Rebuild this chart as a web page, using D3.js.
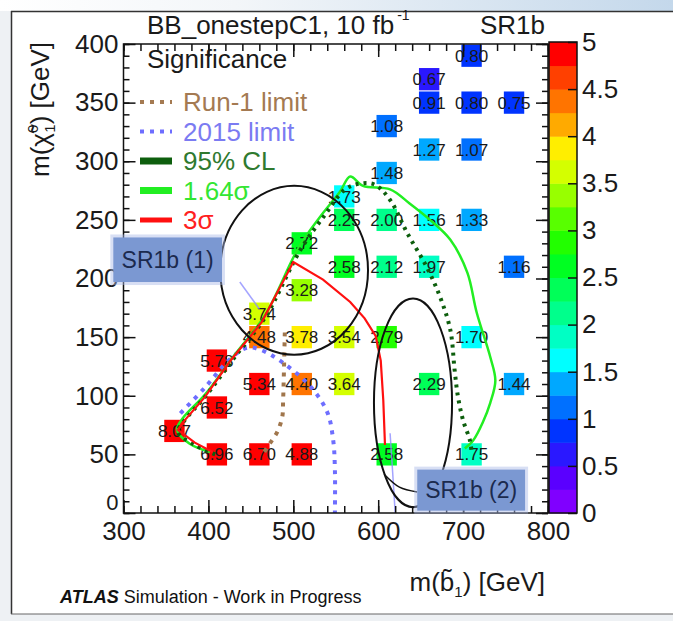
<!DOCTYPE html>
<html><head><meta charset="utf-8">
<script src="https://cdn.jsdelivr.net/npm/d3@7"></script>
<style>
html,body{margin:0;padding:0;background:#fff;}
svg{display:block;font-family:"Liberation Sans",Arial,Helvetica,sans-serif;}
</style></head><body>
<svg id="c" width="673" height="621"></svg>
<script>
// ---------------- data ----------------
const mSbottom   = [360,410,460,510,610,710,410,460,510,560,660,760,410,460,510,560,610,710,460,510,560,610,660,760,510,560,610,660,710,560,610,660,710,610,660,710,760,660,710];
const mNeutralino= [ 70, 50, 50, 50, 50, 50, 90,110,110,110,110,110,130,150,150,150,150,150,170,190,210,210,210,210,230,250,250,250,250,270,290,310,310,330,350,350,350,370,390];
const significance=[8.07,6.96,6.70,4.88,2.58,1.75,6.52,5.34,4.40,3.64,2.29,1.44,5.78,4.48,3.78,3.54,2.79,1.70,3.74,3.28,2.58,2.12,1.97,1.16,2.72,2.25,2.00,1.56,1.33,1.73,1.48,1.27,1.07,1.08,0.91,0.80,0.75,0.67,0.80];

const xTicks = [300,400,500,600,700,800];
const yTicks = [0,50,100,150,200,250,300,350,400];
const zTicks = [0,0.5,1,1.5,2,2.5,3,3.5,4,4.5,5];
const zTickLabels = ["0","0.5","1","1.5","2","2.5","3","3.5","4","4.5","5"];
const palette = ["#8000ff","#5a00ff","#2a18ff","#0034ff","#0070ff","#00a8ff","#00ffff","#00ffc4","#00ff8c","#00ff58","#00ff22","#22ff00","#58ff00","#98ff00","#d4ff00","#ffee00","#ffaa00","#ff7400","#ff4000","#ff0000"];

// contours (GeV)
const sig3X = [405,384,364,372,396,425,463,500,535,567,584,597,603,606,608];
const sig3Y = [52,60,71,79,99,129,163,214,199,180,166,151,130,96,58];
const sig164X = [402,378,363,370,396,431,467,506,531,555,567,582,614,637,661,685,705,716,732,738,732,723,712,702];
const sig164Y = [52,59,71,81,101,135,169,226,252,274,287,279,276,264,250,233,205,171,133,113,94,77,62,55];
const cl95X = [408,384,364,372,396,431,467,508,537,561,579,596,614,634,657,673,685,690,694,700,708,710];
const cl95Y = [50,58,69,79,99,133,167,224,254,276,281,280,267,239,210,184,156,122,99,79,62,52];
const run1X = [490,489,488,487,481,473,464];
const run1Y = [154,122,96,82,69,60,50];
const lim2015X = [367,396,425,446,462,488,520,540,547,549,549];
const lim2015Y = [85,107,131,141,139,128,108,86,62,37,0];
const thinAX = [437,460], thinAY = [197,174];
const thinBX = [614,617,620], thinBY = [68,35,0];

// annotations (GeV)
const ellipses = [{cx:501, cy:207, rx:87, ry:72},{cx:641, cy:94, rx:46, ry:89}];
const srBoxes = [{label:"SR1b (1)", x0:288, x1:416, y0:197, y1:235},{label:"SR1b (2)", x0:646, x1:773, y0:2, y1:37}];
const connectorX = [607,625,646], connectorY = [33,22,18];

const legendItems = [
  {label:"Run-1 limit", color:"#a47a52", text:"#a47a52", w:4, dash:"4,6"},
  {label:"2015 limit", color:"#6e6eff", text:"#7b7bf2", w:4, dash:"4,6"},
  {label:"95% CL", color:"#0d5e0d", text:"#2f7a2f", w:7, dash:null},
  {label:"1.64\u03c3", color:"#22ee22", text:"#33e633", w:7, dash:null},
  {label:"3\u03c3", color:"#ff1010", text:"#ff2020", w:5, dash:null}
];

// ---------------- drawing ----------------
const W = 673, H = 621;
const svg = d3.select("#c");
const defs = svg.append("defs");
const g1 = defs.append("linearGradient").attr("id","topg").attr("x1","0").attr("x2","1").attr("y1","0").attr("y2","0");
g1.append("stop").attr("offset","0").attr("stop-color","#ffffff");
g1.append("stop").attr("offset","0.35").attr("stop-color","#f3f6f9");
g1.append("stop").attr("offset","1").attr("stop-color","#c4d8eb");

svg.append("rect").attr("width",W).attr("height",H).attr("fill","#fff");
svg.append("rect").attr("x",0).attr("y",0).attr("width",W).attr("height",11).attr("fill","url(#topg)");
svg.append("rect").attr("x",0).attr("y",11).attr("width",11).attr("height",H-11).attr("fill","#eef1f4");
svg.append("rect").attr("x",11).attr("y",614).attr("width",W-11).attr("height",H-614).attr("fill","#eef1f4");
svg.append("line").attr("x1",11).attr("x2",W).attr("y1",11.5).attr("y2",11.5).attr("stroke","#333").attr("stroke-width",1.5);
svg.append("line").attr("x1",11.5).attr("x2",11.5).attr("y1",11).attr("y2",614).attr("stroke","#333").attr("stroke-width",1.5);
svg.append("line").attr("x1",11).attr("x2",W).attr("y1",614).attr("y2",614).attr("stroke","#666").attr("stroke-width",1);

const x = d3.scaleLinear().domain([300,800]).range([123.5,548]);
const y = d3.scaleLinear().domain([0,400]).range([513,44]);
const z = d3.scaleLinear().domain([0,5]).range([513,42]);
const color = d3.scaleQuantize().domain([0,5]).range(palette);
const fmt = d3.format(".2f");

const plot = svg.append("g");
const clip = defs.append("clipPath").attr("id","pc");
clip.append("rect").attr("x",x(300)).attr("y",y(400)).attr("width",x(800)-x(300)).attr("height",y(0)-y(400));

// cells
const halfW = 12, halfH = 9.5;
const cells = mSbottom.map((d,i)=>({x:d, y:mNeutralino[i], v:significance[i]}));
plot.selectAll("rect.cell").data(cells).enter().append("rect").attr("class","cell")
  .attr("x",d=>x(d.x-halfW)).attr("y",d=>y(d.y+halfH))
  .attr("width",d=>x(d.x+halfW)-x(d.x-halfW)).attr("height",d=>y(d.y-halfH)-y(d.y+halfH))
  .attr("fill",d=>color(Math.min(d.v,4.999)));
plot.selectAll("text.cell").data(cells).enter().append("text").attr("class","cell")
  .attr("x",d=>x(d.x)).attr("y",d=>y(d.y)).attr("dy","0.36em")
  .attr("text-anchor","middle").attr("font-size",17).attr("fill","#1a1a1a")
  .text(d=>fmt(d.v));

// contours
const mk = (xs,ys)=>xs.map((v,i)=>[x(v),y(ys[i])]);
const lineCR = d3.line().curve(d3.curveCatmullRom.alpha(0.5));
const lineL = d3.line();
const cg = svg.append("g").attr("clip-path","url(#pc)");
cg.append("path").attr("d",lineCR(mk(thinAX,thinAY))).attr("fill","none").attr("stroke","#8d8dff").attr("stroke-width",1.5).attr("opacity",0.8);
cg.append("path").attr("d",lineCR(mk(thinBX,thinBY))).attr("fill","none").attr("stroke","#8d8dff").attr("stroke-width",1.5).attr("opacity",0.8);
cg.append("path").attr("d",lineCR(mk(lim2015X,lim2015Y))).attr("fill","none").attr("stroke","#6e6eff").attr("stroke-width",4).attr("stroke-dasharray","4,6");
cg.append("path").attr("d",lineCR(mk(run1X,run1Y))).attr("fill","none").attr("stroke","#a0764c").attr("stroke-width",4).attr("stroke-dasharray","4,6");
cg.append("path").attr("d",lineCR(mk(sig164X,sig164Y))).attr("fill","none").attr("stroke","#22ee22").attr("stroke-width",2.5);
cg.append("path").attr("d",lineCR(mk(cl95X,cl95Y))).attr("fill","none").attr("stroke","#0d5e0d").attr("stroke-width",4).attr("stroke-dasharray","3,5");
cg.append("path").attr("d",lineL(mk(sig3X,sig3Y))).attr("fill","none").attr("stroke","#ff1010").attr("stroke-width",2.2);

// ellipses
svg.selectAll("ellipse.ann").data(ellipses).enter().append("ellipse").attr("class","ann")
  .attr("cx",d=>x(d.cx)).attr("cy",d=>y(d.cy))
  .attr("rx",d=>x(d.cx+d.rx)-x(d.cx)).attr("ry",d=>y(d.cy-d.ry)-y(d.cy))
  .attr("fill","none").attr("stroke","#111").attr("stroke-width",2);
svg.append("path").attr("d",lineCR(mk(connectorX,connectorY))).attr("fill","none").attr("stroke","#111").attr("stroke-width",1.5);

// frame ticks
const ax = svg.append("g").attr("class","axes");
function styleAxis(g){ g.select(".domain").remove(); g.selectAll("line").attr("stroke","#111").attr("stroke-width",1.5); g.selectAll("text").attr("font-size",26).attr("fill","#1a1a1a").attr("font-family","'Liberation Sans',Arial,sans-serif"); }
const xMinor = d3.range(300,801,20), yMinor = d3.range(0,401,10);
ax.append("g").attr("transform",`translate(0,${y(0)})`).call(d3.axisBottom(x).tickValues(xMinor).tickSize(-7).tickFormat("")).call(styleAxis);
ax.append("g").attr("transform",`translate(0,${y(0)})`).call(d3.axisBottom(x).tickValues(xTicks).tickSize(-13).tickPadding(9).tickFormat(d3.format("d"))).call(styleAxis);
ax.append("g").attr("transform",`translate(0,${y(400)})`).call(d3.axisTop(x).tickValues(xMinor).tickSize(-7).tickFormat("")).call(styleAxis);
ax.append("g").attr("transform",`translate(0,${y(400)})`).call(d3.axisTop(x).tickValues(xTicks).tickSize(-13).tickFormat("")).call(styleAxis);
ax.append("g").attr("transform",`translate(${x(300)},0)`).call(d3.axisLeft(y).tickValues(yMinor).tickSize(-6).tickFormat("")).call(styleAxis);
const yAxG = ax.append("g").attr("transform",`translate(${x(300)},0)`).call(d3.axisLeft(y).tickValues(yTicks).tickSize(-12).tickPadding(5).tickFormat(d3.format("d"))).call(styleAxis);
yAxG.selectAll(".tick").filter(d=>d===0).select("text").attr("font-size",22).attr("dy","-0.15em");
ax.append("g").attr("transform",`translate(${x(800)},0)`).call(d3.axisRight(y).tickValues(yMinor).tickSize(-6).tickFormat("")).call(styleAxis);
ax.append("g").attr("transform",`translate(${x(800)},0)`).call(d3.axisRight(y).tickValues(yTicks).tickSize(-12).tickFormat("")).call(styleAxis);
svg.append("rect").attr("x",x(300)).attr("y",y(400)).attr("width",x(800)-x(300)).attr("height",y(0)-y(400))
  .attr("fill","none").attr("stroke","#111").attr("stroke-width",1.5);

// SR boxes
srBoxes.forEach(b=>{
  const bx = x(b.x0), bw = x(b.x1)-x(b.x0), by = y(b.y1), bh = y(b.y0)-y(b.y1);
  svg.append("rect").attr("x",bx-3).attr("y",by-3).attr("width",bw+6).attr("height",bh+6).attr("fill","#a9b9e6").attr("opacity",0.45);
  svg.append("rect").attr("x",bx).attr("y",by).attr("width",bw).attr("height",bh).attr("fill","#7b98d2");
  svg.append("text").attr("x",bx+bw/2).attr("y",by+bh/2).attr("dy","0.36em").attr("text-anchor","middle")
    .attr("font-size",23).attr("fill","#1b2a4e").text(b.label);
});

// colour bar
const cb = svg.append("g");
const bands = d3.range(palette.length);
cb.selectAll("rect.band").data(bands).enter().append("rect").attr("class","band")
  .attr("x",549).attr("width",28)
  .attr("y",i=>z((i+1)*5/palette.length)).attr("height",i=>z(i*5/palette.length)-z((i+1)*5/palette.length)+0.5)
  .attr("fill",i=>palette[i]);
cb.append("rect").attr("x",549).attr("y",z(5)).attr("width",28).attr("height",z(0)-z(5)).attr("fill","none").attr("stroke","#111").attr("stroke-width",1.5);
cb.append("g").attr("transform","translate(577,0)")
  .call(d3.axisRight(z).tickValues(zTicks).tickSize(-9).tickPadding(5).tickFormat((d,i)=>zTickLabels[i])).call(styleAxis);

// titles
const t = svg.append("text").attr("x",147).attr("y",34).attr("font-size",26).attr("fill","#1a1a1a");
t.append("tspan").text("BB_onestepC1, 10 fb");
t.append("tspan").attr("font-size",14).attr("dy",-14).attr("dx",3).text("-1");
svg.append("text").attr("x",545).attr("y",34).attr("text-anchor","end").attr("font-size",26).attr("fill","#1a1a1a").text("SR1b");

const yl = svg.append("text").attr("transform","translate(49,42) rotate(-90)").attr("text-anchor","end").attr("font-size",26).attr("fill","#1a1a1a");
yl.append("tspan").text("m(\u03c7\u0303");
yl.append("tspan").attr("font-size",15).attr("dy",-11).text("0");
yl.append("tspan").attr("font-size",15).attr("dx",-8).attr("dy",17).text("1");
yl.append("tspan").attr("dy",-6).text(") [GeV]");

const xl = svg.append("text").attr("x",545).attr("y",591).attr("text-anchor","end").attr("font-size",26).attr("fill","#1a1a1a");
xl.append("tspan").text("m(b\u0303");
xl.append("tspan").attr("font-size",15).attr("dy",6).text("1");
xl.append("tspan").attr("dy",-6).text(") [GeV]");

// legend
svg.append("text").attr("x",147).attr("y",68).attr("font-size",26).attr("fill","#1a1a1a").text("Significance");
const lg = svg.append("g");
legendItems.forEach((it,i)=>{
  const ly = 102 + i*29.5;
  const ln = lg.append("line").attr("x1",140).attr("x2",172).attr("y1",ly).attr("y2",ly).attr("stroke",it.color).attr("stroke-width",it.w);
  if(it.dash) ln.attr("stroke-dasharray",it.dash);
  lg.append("text").attr("x",183).attr("y",ly).attr("dy","0.36em").attr("font-size",26).attr("fill",it.text).text(it.label);
});

// footer
const ft = svg.append("text").attr("x",60).attr("y",603).attr("font-size",18).attr("fill","#111");
ft.append("tspan").attr("font-weight","bold").attr("font-style","italic").text("ATLAS");
ft.append("tspan").text(" Simulation - Work in Progress");
</script>
</body></html>
